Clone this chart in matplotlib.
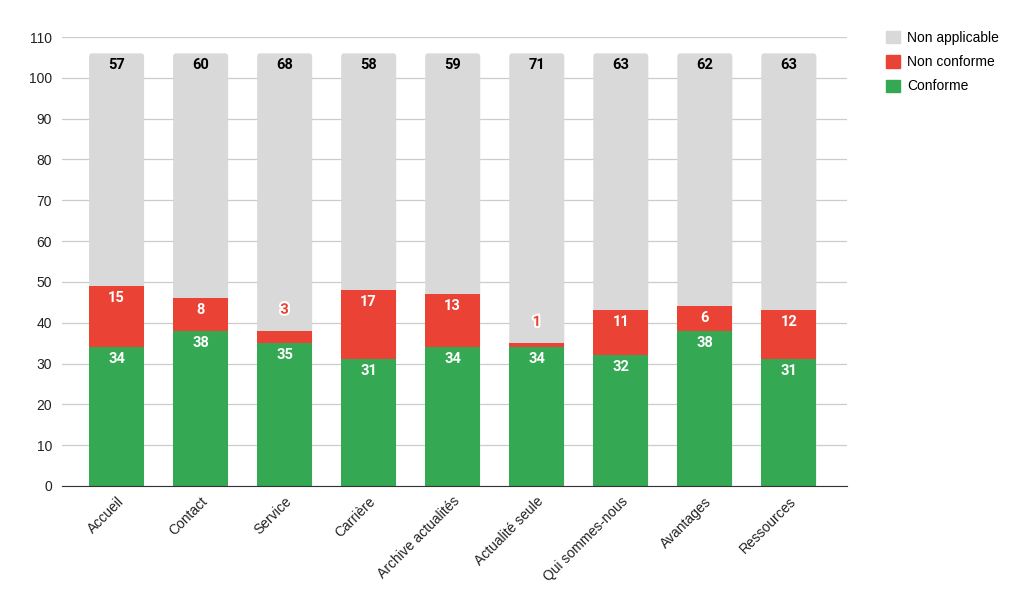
import matplotlib.pyplot as plt
import matplotlib.patheffects as pe
from matplotlib.patches import FancyBboxPatch
import numpy as np

pages = ["Accueil", "Contact", "Service", "Carrière", "Archive actualités",
         "Actualité seule", "Qui sommes-nous", "Avantages", "Ressources"]
conforme = [34, 38, 35, 31, 34, 34, 32, 38, 31]
non_conforme = [15, 8, 3, 17, 13, 1, 11, 6, 12]
non_applicable = [57, 60, 68, 58, 59, 71, 63, 62, 63]

green = "#34A853"
red = "#EA4335"
grey = "#D9D9D9"

plt.rcParams["font.family"] = ["Liberation Sans", "DejaVu Sans"]

fig = plt.figure(figsize=(10.24, 6.05), dpi=100)
ax = fig.add_axes([0.0605, 0.1967, 0.7665, 0.7421])

x = np.arange(len(pages))
w = 0.655
conf = np.array(conforme)
nonc = np.array(non_conforme)
na = np.array(non_applicable)
total = conf + nonc + na

ax.set_xlim(-0.65, 8.69)
ax.set_ylim(0, 110)

# rounded top: full-height grey bar behind, green and red drawn on top
px_x = 785 / 9.34
px_y = 449 / 110
for xi, t in zip(x, total):
    box = FancyBboxPatch((xi - w / 2, 0), w, t,
                         boxstyle="round,pad=0,rounding_size=0.035",
                         mutation_aspect=px_x / px_y,
                         facecolor=grey, edgecolor="none", zorder=2)
    ax.add_patch(box)
ax.bar(x, conf, w, color=green, zorder=3)
ax.bar(x, nonc, w, bottom=conf, color=red, zorder=3)

lab = dict(ha="center", va="center", fontsize=10.5, fontweight="bold",
           family=["Roboto", "DejaVu Sans"], zorder=5)
for xi, c, n, t in zip(x, conf, nonc, total):
    ax.text(xi, c - 2.9, str(c), color="white", **lab)
    if n >= 5:
        ax.text(xi, c + n - 2.9, str(n), color="white", **lab)
    else:
        ax.text(xi, c + n + 5.2, str(n), color=red,
                path_effects=[pe.withStroke(linewidth=3, foreground="white")], **lab)
    ax.text(xi, t - 2.9, str(t - c - n), color="black", **lab)

ax.set_yticks(range(0, 111, 10))
ax.yaxis.grid(True, color="#CCCCCC", linewidth=0.9, zorder=0)
ax.set_axisbelow(True)
ax.tick_params(axis="y", length=0, labelsize=10, pad=7, colors="#222222")
ax.set_xticks(x)
ax.set_xticklabels(pages, rotation=45, ha="right", rotation_mode="anchor", fontsize=10)
ax.tick_params(axis="x", length=0, pad=6, colors="#222222")
for s in ["top", "right", "left"]:
    ax.spines[s].set_visible(False)
ax.spines["bottom"].set_color("#333333")
ax.spines["bottom"].set_zorder(6)

handles = [plt.Rectangle((0, 0), 1, 1, color=grey),
           plt.Rectangle((0, 0), 1, 1, color=red),
           plt.Rectangle((0, 0), 1, 1, color=green)]
fig.legend(handles, ["Non applicable", "Non conforme", "Conforme"],
           loc="upper left", bbox_to_anchor=(0.853, 0.970), frameon=False,
           fontsize=10, handlelength=1.0, handleheight=1.0, labelspacing=0.75,
           handletextpad=0.5)

fig.savefig("out.png", dpi=100)
